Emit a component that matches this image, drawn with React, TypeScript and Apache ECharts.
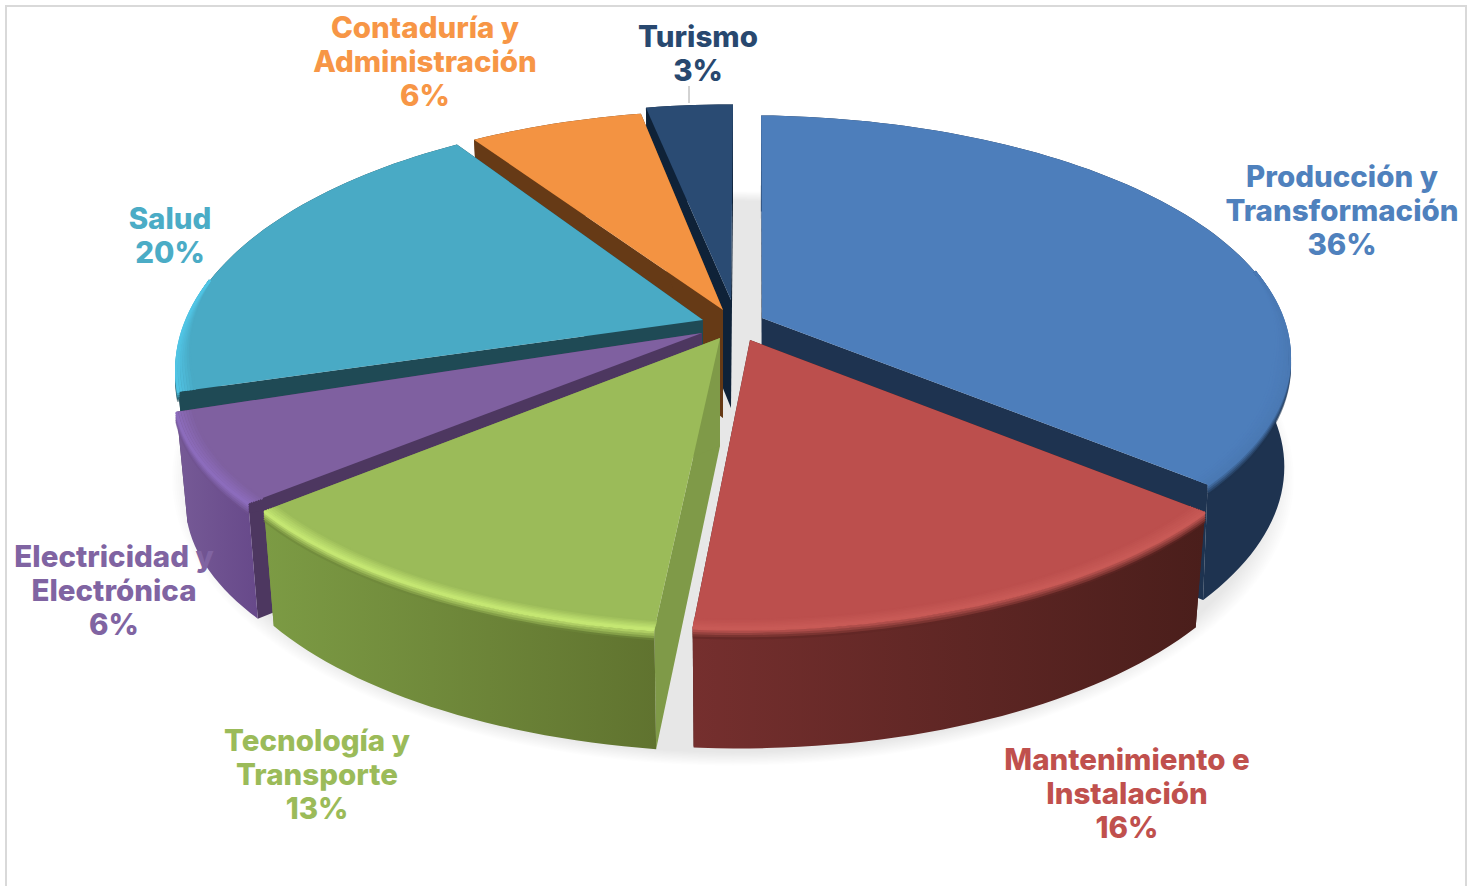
import React, { useEffect, useRef } from "react";
import * as echarts from "echarts";

const categories = ["Producción y\nTransformación", "Mantenimiento e\nInstalación", "Tecnología y\nTransporte", "Electricidad y\nElectrónica", "Salud", "Contaduría y\nAdministración", "Turismo"];
const values = [36, 16, 13, 6, 20, 6, 3];
const paintOrder = [6, 5, 4, 0, 3, 2, 1];

const faceColors = ["#4D7EBB", "#BC4F4D", "#9BBB59", "#7F60A0", "#49AAC5", "#F39342", "#2A4B73"];
const labelColors = ["#4F81BD", "#C0504D", "#9BBB59", "#8064A2", "#4BACC6", "#F79646", "#28486F"];
const wallLeft = ["#1E3350", "#752F2E", "#7C9B44", "#765A96", "#1F4A55", "#663A16", "#0F2238"];
const wallRight = ["#1E3350", "#4A1E1B", "#60732F", "#67498A", "#1F4A55", "#663A16", "#0F2238"];
const cutColors = ["#1E3350", "#4A1E1B", "#7F9A48", "#4D3760", "#1F4A55", "#663A16", "#0F2238"];
const glowColors = ["#4A79B4", "#C85A56", "#C4E672", "#8C6CBC", "#50C4E4", "#F79646", "#2A4B73"];

const slicePose = [
  { dx: 20, dy: -13, kx: 0.995, ky: 0.94, floorK: 0.99, apex: [762, 318], trim: [2, 0] },
  { dx: 15, dy: 11, kx: 1, ky: 0.96, floorK: 0.98, apex: [750, 340], trim: [0, -3] },
  { dx: 17, dy: 25.7, kx: 1, ky: 0.924, floorK: 0.98, apex: [720, 338], trim: [0.6, -1.2] },
  { dx: -3, dy: 26, kx: 1, ky: 0.86, floorK: 0.98, apex: [702, 333], trim: [-2, 0] },
  { dx: -5, dy: -3, kx: 0.993, ky: 1, floorK: 0.98, apex: [703, 320], trim: [0, -1.5] },
  { dx: 3, dy: -5, kx: 1, ky: 1, floorK: 0.98, apex: [723, 310], trim: [0, 0] },
  { dx: 8, dy: -11, kx: 1, ky: 1, floorK: 0.98, apex: [731, 300], trim: [0, 0] },
];

const labelSpots = [
  [1342, 159], [1127, 742], [317, 723], [114, 539], [170, 201], [425, 10], [698, 19],
];

const CX = 725, CY = 330, RX = 540, RY = 250, PERSP = 0.165, STEP = 1.5;

const total = values.reduce((a, b) => a + b, 0);
const startAngles = values.map((_, i) => (values.slice(0, i).reduce((a, b) => a + b, 0) / total) * 360);

function ring(deg: number, r = 1) {
  const a = (deg * Math.PI) / 180;
  const u = Math.sin(a), v = -Math.cos(a);
  const s = 1 / (1 - PERSP * v);
  return { X: RX * u * s * r, Y: RY * v * s * r, v };
}
function rimPt(i: number, deg: number, r = 1) {
  const p = slicePose[i], q = ring(deg, r);
  return [CX + p.dx + q.X * p.kx, CY + p.dy + q.Y * p.ky];
}
function floorPt(i: number, deg: number) {
  const p = slicePose[i], q = ring(deg);
  return [CX + p.dx + q.X * p.kx * p.floorK, CY + p.dy + q.Y * p.ky + 108 + 12 * q.v];
}
function sweep(a: number, b: number) {
  const out: number[] = [];
  for (let d = a; d < b; d += STEP) out.push(d);
  out.push(b);
  return out;
}
function channel(c: string, k: number) {
  return parseInt(c.slice(1 + k * 2, 3 + k * 2), 16);
}
function mix(c1: string, c2: string, t: number) {
  const ch = [0, 1, 2].map((k) => Math.round(channel(c1, k) + (channel(c2, k) - channel(c1, k)) * t));
  return "#" + ch.map((n) => n.toString(16).padStart(2, "0")).join("");
}
function fade(v: number) {
  return Math.min(1, Math.max(0, (v + 0.2) / 0.4));
}

function renderSlice(_: any, api: any) {
  const i = api.value(0) as number;
  const p = slicePose[i];
  const a0 = startAngles[i] + p.trim[0];
  const a1 = startAngles[i] + (api.value(1) / total) * 360 + p.trim[1];
  const degs = sweep(a0, a1);
  const top = degs.map((d) => rimPt(i, d));
  const bottom = degs.map((d) => floorPt(i, d));
  const apexLow = [p.apex[0], p.apex[1] + 108];
  const children: any[] = [];
  const cut = (deg: number) => ({
    type: "polygon",
    shape: { points: [p.apex, rimPt(i, deg), floorPt(i, deg), apexLow] },
    style: { fill: cutColors[i] },
  });
  children.push(cut(a0), cut(a1));
  children.push({
    type: "polygon",
    shape: { points: top.concat(bottom.slice().reverse()) },
    style: {
      fill: new echarts.graphic.LinearGradient(0, 0, 1, 0, [
        { offset: 0, color: wallLeft[i] },
        { offset: 1, color: wallRight[i] },
      ]),
    },
  });
  children.push({
    type: "polygon",
    shape: { points: [p.apex, ...top] },
    style: { fill: faceColors[i] },
  });
  const front = degs.filter((d) => ring(d).v > -0.2);
  if (front.length > 1) {
    const glow = glowColors[i];
    const wallMid = mix(wallLeft[i], wallRight[i], 0.5);
    for (let k = 4; k >= 0; k--) {
      const t = k / 4;
      children.push({
        type: "polyline",
        shape: {
          points: front.map((d) => {
            const q = rimPt(i, d);
            return [q[0], q[1] + (1 + k * 2.2) * fade(ring(d).v)];
          }),
        },
        style: { stroke: mix(glow, wallMid, t), lineWidth: 2.6, fill: "none", opacity: k === 4 ? 0.6 : 1 },
      });
    }
    for (let k = 0; k < 7; k++) {
      const t = k / 6;
      children.push({
        type: "polyline",
        shape: { points: front.map((d) => rimPt(i, d, 1 - (0.03 - 0.005 * k) * fade(ring(d).v))) },
        style: { stroke: mix(faceColors[i], glow, t), lineWidth: 2.4, fill: "none" },
      });
    }
  }
  return { type: "group", children };
}

function renderShadow() {
  const children: any[] = [];
  const layers = 12;
  for (let n = 0; n < layers; n++) {
    const grow = 1.035 - (0.04 * n) / (layers - 1);
    const pts = sweep(0, 360).map((d) => {
      const q = ring(d);
      return [CX + 8 + q.X * 0.99 * grow, CY + 101 + q.Y * 1.08 * grow];
    });
    children.push({
      type: "polygon",
      shape: { points: pts },
      style: { fill: "#000000", opacity: 0.0095 },
    });
  }
  return { type: "group", children };
}

export default function App() {
  const ref = useRef<HTMLDivElement>(null);
  useEffect(() => {
    document.body.style.margin = "0";
    document.body.style.background = "#fff";
    const chart = echarts.init(ref.current!, null, { renderer: "svg" });
    chart.setOption({
      animation: false,
      backgroundColor: "#FFFFFF",
      xAxis: { show: false },
      yAxis: { show: false },
      series: [
        { type: "custom", coordinateSystem: "none", silent: true, z: 1, data: [[0]], renderItem: renderShadow },
        {
          type: "custom",
          coordinateSystem: "none",
          silent: true,
          z: 2,
          data: paintOrder.map((i) => [i, values[i], categories[i]]),
          renderItem: renderSlice,
        },
      ],
      graphic: [
        { type: "rect", z: 0, shape: { x: 6, y: 6, width: 1460, height: 900 }, style: { fill: "none", stroke: "#D9D9D9", lineWidth: 2 } },
        { type: "line", z: 5, shape: { x1: 689, y1: 86, x2: 689, y2: 103 }, style: { stroke: "#A6A6A6", lineWidth: 1 } },
        ...categories.map((c, i) => ({
          type: "text",
          z: 10,
          x: labelSpots[i][0],
          y: labelSpots[i][1],
          style: {
            text: `${c}\n${values[i]}%`,
            fill: labelColors[i],
            font: "800 29.5px Inter",
            lineHeight: 34,
            align: "center",
            verticalAlign: "top",
          },
        })),
      ],
    });
    return () => chart.dispose();
  }, []);
  return <div ref={ref} style={{ width: 1475, height: 886 }} />;
}
